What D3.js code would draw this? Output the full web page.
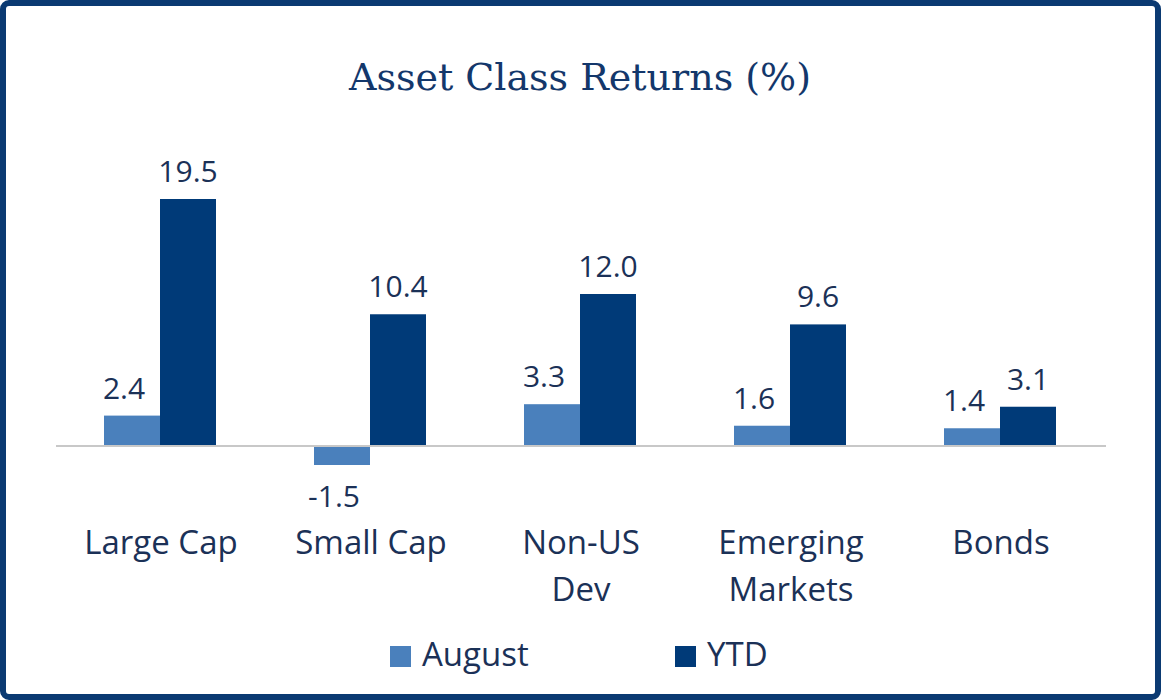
<!DOCTYPE html>
<html><head><meta charset="utf-8">
<script src="https://cdn.jsdelivr.net/npm/d3@7"></script>
<style>body{margin:0;background:#fff}</style>
</head><body>
<script>
const categories = [['Large Cap'], ['Small Cap'], ['Non-US', 'Dev'], ['Emerging', 'Markets'], ['Bonds']];
const august = [2.4, -1.5, 3.3, 1.6, 1.4];
const ytd = [19.5, 10.4, 12.0, 9.6, 3.1];
const seriesNames = ['August', 'YTD'];
const colors = ['#4a80bc', '#003a78'];

const W = 1161, H = 700;
const svg = d3.select('body').append('svg').attr('width', W).attr('height', H);

svg.append('rect').attr('x', 3).attr('y', 3).attr('width', W - 6).attr('height', H - 6)
  .attr('rx', 6).attr('fill', '#fff').attr('stroke', '#0b3a72').attr('stroke-width', 6);

svg.append('text').attr('x', 580).attr('y', 90).attr('text-anchor', 'middle')
  .attr('font-family', 'DejaVu Serif, Liberation Serif, serif').attr('font-size', 38)
  .attr('fill', '#13376b').text('Asset Class Returns (%)');

const x = d3.scaleBand().domain(d3.range(categories.length)).range([56, 1106]);
const x1 = d3.scaleBand().domain([0, 1]).range([48, 160]);
const y = d3.scaleLinear().domain([0, 19.5]).range([446, 199]);

const rows = categories.map((c, i) => [august[i], ytd[i]]);
const g = svg.selectAll('g.grp').data(rows).enter().append('g')
  .attr('transform', (d, i) => `translate(${x(i)},0)`);

g.selectAll('rect').data(d => d).enter().append('rect')
  .attr('x', (d, j) => x1(j)).attr('width', x1.bandwidth())
  .attr('y', d => y(Math.max(0, d))).attr('height', d => Math.abs(y(d) - y(0)))
  .attr('fill', (d, j) => colors[j]);

g.selectAll('text.v').data(d => d).enter().append('text')
  .attr('x', (d, j) => x1(j) + x1.bandwidth() / 2 - (j === 0 ? 8 : 0))
  .attr('y', d => d >= 0 ? y(d) - 17 : y(d) + 42)
  .attr('text-anchor', 'middle').attr('font-family', 'Open Sans, sans-serif')
  .attr('font-size', 30).attr('fill', '#1b3157').text(d => d.toFixed(1));

svg.append('line').attr('x1', 56).attr('x2', 1106).attr('y1', y(0)).attr('y2', y(0))
  .attr('stroke', '#c8c8c8').attr('stroke-width', 2);

const cl = svg.selectAll('text.cat').data(categories).enter().append('text')
  .attr('text-anchor', 'middle').attr('font-family', 'Open Sans, sans-serif')
  .attr('font-size', 33).attr('fill', '#1b3157');
cl.selectAll('tspan').data((d, i) => d.map(t => [t, i])).enter().append('tspan')
  .attr('x', d => x(d[1]) + x.bandwidth() / 2).attr('y', (d, k) => 554 + k * 47)
  .text(d => d[0]);

const lx = [390, 675];
seriesNames.forEach((s, i) => {
  svg.append('rect').attr('x', lx[i]).attr('y', 646).attr('width', 21).attr('height', 21).attr('fill', colors[i]);
  svg.append('text').attr('x', lx[i] + 32).attr('y', 666).attr('font-family', 'Open Sans, sans-serif')
    .attr('font-size', 33).attr('fill', '#1b3157').text(s);
});
</script>
</body></html>
